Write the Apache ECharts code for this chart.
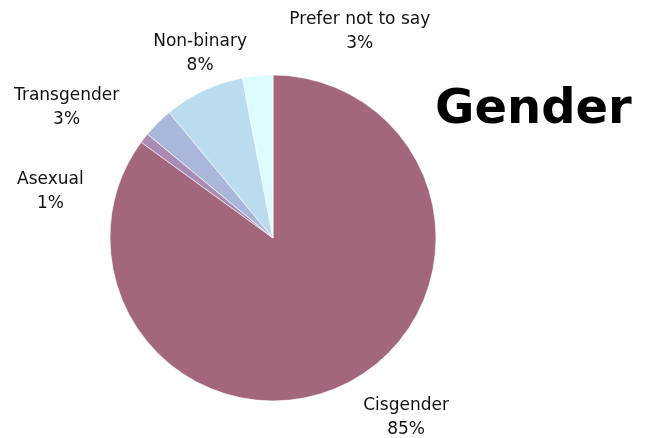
<!DOCTYPE html>
<html>
<head>
<meta charset="utf-8">
<script src="https://cdn.jsdelivr.net/npm/echarts@6/dist/echarts.min.js"></script>
<style>
  html, body { margin: 0; padding: 0; background: #ffffff; }
  #chart { width: 648px; height: 438px; }
</style>
</head>
<body>
<div id="chart"></div>
<script>
// Gender breakdown, in percent, clockwise from 12 o'clock
const categories = ['Cisgender', 'Asexual', 'Transgender', 'Non-binary', 'Prefer not to say'];
const shares = [85, 1, 3, 8, 3];
const sliceColors = ['#a3677d', '#a98bb3', '#aab6da', '#badcee', '#dcfcff'];

// small offsets that move each outside label to its resting place
const labelNudge = [[45, 17], [-73, 66], [-72, -1], [10, -19], [109, -24]];

const chart = echarts.init(document.getElementById('chart'), null, { renderer: 'canvas' });

chart.setOption({
  backgroundColor: '#ffffff',
  animation: false,
  title: {
    text: 'Gender',
    left: 430,
    top: 82,
    textStyle: {
      fontFamily: 'DejaVu Sans',
      fontWeight: 'bold',
      fontSize: 48,
      color: '#000000'
    }
  },
  series: [{
    type: 'pie',
    center: [273, 238],
    radius: 163,
    startAngle: 90,
    clockwise: true,
    avoidLabelOverlap: false,
    itemStyle: { borderColor: '#ffffff', borderWidth: 0.6 },
    label: {
      show: true,
      position: 'outside',
      formatter: p => p.name + '\n' + p.value + '%',
      fontFamily: 'DejaVu Sans',
      fontSize: 17,
      lineHeight: 24,
      color: '#111111'
    },
    labelLine: { show: false, length: 20, length2: 0 },
    labelLayout: params => ({
      align: 'center',
      verticalAlign: 'middle',
      dx: labelNudge[params.dataIndex][0],
      dy: labelNudge[params.dataIndex][1]
    }),
    emphasis: { disabled: true },
    data: categories.map((name, i) => ({
      name: name,
      value: shares[i],
      itemStyle: { color: sliceColors[i] }
    }))
  }]
});
</script>
</body>
</html>
